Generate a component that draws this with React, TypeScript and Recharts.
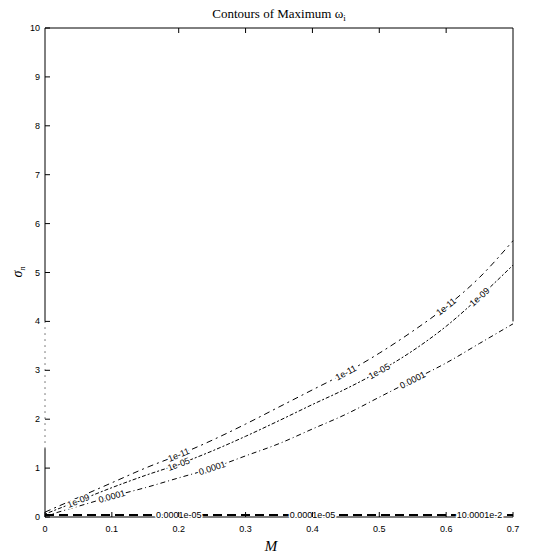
import { LineChart, Line, XAxis, YAxis, ReferenceDot, ReferenceLine } from "recharts"

// contour levels sampled along M
const mGrid = [0, 0.05, 0.1, 0.15, 0.2, 0.25, 0.3, 0.35, 0.4, 0.45, 0.5, 0.55, 0.6, 0.65, 0.7]
const contour1e11 = [0.1, 0.4, 0.7, 1.0, 1.27, 1.57, 1.9, 2.25, 2.6, 2.95, 3.35, 3.8, 4.3, 4.9, 5.65]
const contour1e05 = [0.06, 0.33, 0.6, 0.85, 1.08, 1.35, 1.65, 1.97, 2.3, 2.62, 2.98, 3.4, 3.9, 4.5, 5.15]
const contour1e04 = [0.02, 0.22, 0.42, 0.6, 0.8, 1.0, 1.25, 1.5, 1.8, 2.1, 2.45, 2.8, 3.15, 3.55, 3.95]
const contourFloor = [0.04, 0.04, 0.04, 0.04, 0.04, 0.04, 0.04, 0.04, 0.04, 0.04, 0.04, 0.04, 0.04, 0.04, 0.04]

const mTicks = [0, 0.1, 0.2, 0.3, 0.4, 0.5, 0.6, 0.7]
const mTopTicks = [0.2, 0.3, 0.4, 0.5, 0.6]
const sigmaTicks = [0, 1, 2, 3, 4, 5, 6, 7, 8, 9, 10]
const sigmaRightTicks = [4, 5, 6]

const labels1e11 = [
  { m: 0.2, text: "1e-11" },
  { m: 0.45, text: "1e-11" },
  { m: 0.6, text: "1e-11" },
]
const labels1e05 = [
  { m: 0.05, text: "1e-09" },
  { m: 0.2, text: "1e-05" },
  { m: 0.5, text: "1e-05" },
  { m: 0.65, text: "1e-09" },
]
const labels1e04 = [
  { m: 0.1, text: "0.0001" },
  { m: 0.25, text: "0.0001" },
  { m: 0.55, text: "0.0001" },
]
const labelsFloor = [
  { m: 0.2, text: "0.0001e-05" },
  { m: 0.4, text: "0.0001e-05" },
  { m: 0.65, text: "10.0001e-2" },
]

const data = mGrid.map((m, i) => ({
  m,
  c11: contour1e11[i],
  c05: contour1e05[i],
  c04: contour1e04[i],
  floor: contourFloor[i],
}))

const W = 554
const H = 555
// axes take 1px each, so plot box spans x 45..513, y 28..517
const margin = { top: 27, right: 40, bottom: 37, left: 44 }
const pxPerM = 468 / 0.7
const pxPerSigma = 489 / 10

const tickFont = "'Liberation Sans', Arial, sans-serif"
const serif = "'Liberation Serif', 'DejaVu Serif', serif"

function angleAt(series: number[], m: number) {
  const i = mGrid.indexOf(m)
  const a = Math.max(0, i - 1)
  const b = Math.min(mGrid.length - 1, i + 1)
  const dv = (series[b] - series[a]) * pxPerSigma
  const dm = (mGrid[b] - mGrid[a]) * pxPerM
  return (-Math.atan2(dv, dm) * 180) / Math.PI
}

function valueAt(series: number[], m: number) {
  return series[mGrid.indexOf(m)]
}

const BottomTick = (props: any) => {
  const { x, y, payload } = props
  return (
    <g>
      <line x1={x} x2={x} y1={y} y2={y - 5} stroke="#000" />
      <text x={x} y={y + 15} textAnchor="middle" fontSize={9} fontFamily={tickFont} fill="#000">
        {payload.value}
      </text>
    </g>
  )
}

const TopTick = (props: any) => {
  const { x, y } = props
  return <line x1={x} x2={x} y1={y} y2={y + 5} stroke="#000" />
}

const LeftTick = (props: any) => {
  const { x, y, payload } = props
  return (
    <g>
      <line x1={x} x2={x + 5} y1={y} y2={y} stroke="#000" />
      <text x={x - 5} y={y + 3} textAnchor="end" fontSize={9} fontFamily={tickFont} fill="#000">
        {payload.value}
      </text>
    </g>
  )
}

const RightTick = (props: any) => {
  const { x, y } = props
  return <line x1={x} x2={x - 5} y1={y} y2={y} stroke="#000" />
}

function contourLabels(series: number[], items: { m: number; text: string }[], key: string) {
  return items.map((it, i) => (
    <ReferenceDot
      key={key + i}
      x={it.m}
      y={valueAt(series, it.m)}
      r={0}
      ifOverflow="visible"
      shape={(p: any) => (
        <text
          x={p.cx}
          y={p.cy}
          dy={3}
          textAnchor="middle"
          fontSize={9}
          fontFamily={tickFont}
          fill="#000"
          stroke="#fff"
          strokeWidth={3}
          paintOrder="stroke"
          transform={`rotate(${angleAt(series, it.m)} ${p.cx} ${p.cy})`}
        >
          {it.text}
        </text>
      )}
    />
  ))
}

export default function App() {
  return (
    <div style={{ position: "absolute", left: 0, top: 0, width: W, height: H, background: "#fff" }}>
      <LineChart width={W} height={H} data={data} margin={margin}>
        <XAxis
          dataKey="m"
          type="number"
          domain={[0, 0.7]}
          ticks={mTicks}
          height={1}
          tickSize={0}
          tickMargin={0}
          tick={BottomTick}
          axisLine={{ stroke: "#000" }}
          interval={0}
        />
        <XAxis
          xAxisId="top"
          orientation="top"
          dataKey="m"
          type="number"
          domain={[0, 0.7]}
          ticks={mTopTicks}
          height={1}
          tickSize={0}
          tickMargin={0}
          tick={TopTick}
          axisLine={{ stroke: "#000" }}
          interval={0}
        />
        <YAxis
          type="number"
          domain={[0, 10]}
          ticks={sigmaTicks}
          width={1}
          tickSize={0}
          tickMargin={0}
          tick={LeftTick}
          axisLine={false}
          interval={0}
        />
        <YAxis
          yAxisId="right"
          orientation="right"
          type="number"
          domain={[0, 10]}
          ticks={sigmaRightTicks}
          width={1}
          tickSize={0}
          tickMargin={0}
          tick={RightTick}
          axisLine={false}
          interval={0}
        />
        {/* broken axis lines as in the printed figure */}
        <ReferenceLine segment={[{ x: 0, y: 4 }, { x: 0, y: 10 }]} stroke="#000" ifOverflow="visible" />
        <ReferenceLine segment={[{ x: 0, y: 1.4 }, { x: 0, y: 4 }]} stroke="#000" strokeDasharray="1 5" ifOverflow="visible" />
        <ReferenceLine segment={[{ x: 0, y: 0 }, { x: 0, y: 1.4 }]} stroke="#000" ifOverflow="visible" />
        <ReferenceLine segment={[{ x: 0.7, y: 4 }, { x: 0.7, y: 10 }]} stroke="#000" ifOverflow="visible" />
        <Line dataKey="floor" stroke="#000" strokeWidth={2} strokeDasharray="9 5" dot={false} isAnimationActive={false} type="monotone" />
        <Line dataKey="c04" stroke="#000" strokeWidth={1} strokeDasharray="5 3 1 3" dot={false} isAnimationActive={false} type="monotone" />
        <Line dataKey="c05" stroke="#000" strokeWidth={1} strokeDasharray="2 2 4 2" dot={false} isAnimationActive={false} type="monotone" />
        <Line dataKey="c11" stroke="#000" strokeWidth={1} strokeDasharray="6 4 2 4" dot={false} isAnimationActive={false} type="monotone" />
        {contourLabels(contour1e11, labels1e11, "a")}
        {contourLabels(contour1e05, labels1e05, "b")}
        {contourLabels(contour1e04, labels1e04, "c")}
        {contourLabels(contourFloor, labelsFloor, "d")}
        <text x={279} y={18} textAnchor="middle" fontSize={13} fontFamily={serif} fill="#000">
          Contours of Maximum ω<tspan fontSize={9} dy={3}>i</tspan>
        </text>
        <text x={271} y={551} textAnchor="middle" fontSize={15} fontStyle="italic" fontFamily={serif} fill="#000">
          M
        </text>
        <text
          x={22}
          y={272}
          textAnchor="middle"
          fontSize={14}
          fontStyle="italic"
          fontFamily={serif}
          fill="#000"
          transform="rotate(-90 22 272)"
        >
          σ<tspan fontSize={8} dy={3}>n</tspan>
        </text>
      </LineChart>
    </div>
  )
}
